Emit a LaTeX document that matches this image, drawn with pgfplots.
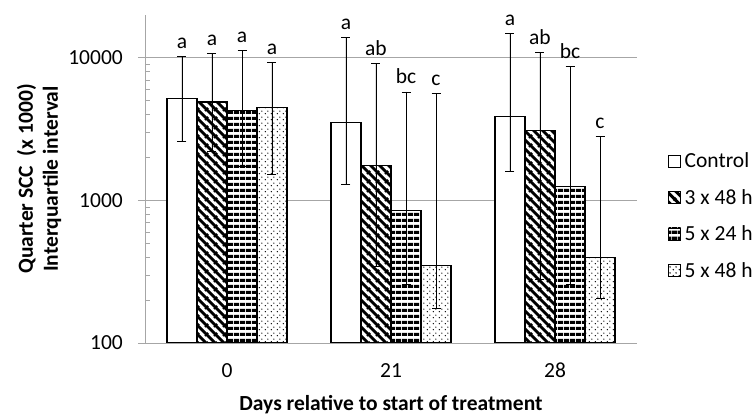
\documentclass[border=0pt]{standalone}
\usepackage{fontspec}
\setmainfont{Carlito}
\usepackage{pgfplots}
\pgfplotsset{compat=1.18}
\usepackage{pgfplotstable}
\usetikzlibrary{patterns}
\definecolor{gridgray}{gray}{0.65}
\newcommand{\myfont}{\fontsize{21.5}{25}\selectfont}

\pgfdeclarepatternformonly{mydiag}{\pgfqpoint{0pt}{0pt}}{\pgfqpoint{9pt}{9pt}}{\pgfqpoint{9pt}{9pt}}{
  \pgfsetlinewidth{3.2pt}
  \pgfpathmoveto{\pgfqpoint{-1pt}{10pt}}\pgfpathlineto{\pgfqpoint{10pt}{-1pt}}
  \pgfpathmoveto{\pgfqpoint{-1pt}{1pt}}\pgfpathlineto{\pgfqpoint{1pt}{-1pt}}
  \pgfpathmoveto{\pgfqpoint{8pt}{10pt}}\pgfpathlineto{\pgfqpoint{10pt}{8pt}}
  \pgfusepath{stroke}
}
\pgfdeclarepatternformonly{myhoriz}{\pgfqpoint{0pt}{0pt}}{\pgfqpoint{6pt}{6pt}}{\pgfqpoint{6pt}{6pt}}{
  \pgfpathrectangle{\pgfqpoint{0pt}{1.25pt}}{\pgfqpoint{6pt}{3.5pt}}
  \pgfusepath{fill}
}
\pgfdeclarepatternformonly{mydots}{\pgfqpoint{0pt}{0pt}}{\pgfqpoint{6pt}{6pt}}{\pgfqpoint{6pt}{6pt}}{
  \pgfpathcircle{\pgfqpoint{1.5pt}{1.5pt}}{0.85pt}
  \pgfpathcircle{\pgfqpoint{4.5pt}{4.5pt}}{0.85pt}
  \pgfusepath{fill}
}

\pgfplotstableread{
x y up lo letter
0 5200 10200 2600 a
1 3520 13900 1300 a
2 3900 14800 1600 a
}\ctrl
\pgfplotstableread{
x y up lo letter
0 4900 10700 2220 a
1 1770 9100 343 ab
2 3110 10950 278 ab
}\tA
\pgfplotstableread{
x y up lo letter
0 4270 11200 1740 a
1 855 5770 258 bc
2 1245 8750 258 bc
}\tB
\pgfplotstableread{
x y up lo letter
0 4500 9300 1530 a
1 350 5600 175 c
2 396 2810 207 c
}\tC

\pgfplotsset{
  mybar/.style={ybar, bar width=0.183, bar shift=0pt, draw=black, line width=1.2pt,
    error bars/y dir=both, error bars/y explicit,
    error bars/error bar style={black, line width=0.8pt},
    error bars/error mark=-, error bars/error mark options={rotate=90, black, mark size=4.5pt, line width=0.8pt}},
  letters/.style={only marks, mark=*, mark size=0pt, mark options={draw=none, fill=none}, forget plot,
    nodes near coords, point meta=explicit symbolic,
    nodes near coords style={anchor=base, yshift=8pt, inner sep=0pt, text=black, font=\myfont}},
}

\begin{document}
\begin{tikzpicture}
\useasboundingbox (-145pt,-72pt) rectangle (611pt,343pt);
\begin{axis}[
  at={(0pt,0pt)}, anchor=south west,
  scale only axis, width=492pt, height=328pt,
  ymode=log, ymin=100, ymax=20000, log origin y=infty,
  xmin=-0.5, xmax=2.5,
  xtick={0,1,2}, xticklabels={0,21,28},
  ytick={100,1000,10000}, yticklabels={100,1000,10000},
  ymajorgrids, grid style={gridgray, line width=0.9pt},
  axis x line*=bottom, axis y line*=left,
  axis line style={gridgray, line width=0.9pt},
  xtick style={draw=none},
  tick align=inside, major tick length=7pt, minor tick length=5pt,
  ytick style={gridgray, line width=0.9pt},
  every major y tick/.append style={xshift=-7pt},
  font=\myfont,
  xticklabel style={anchor=base, yshift=-35pt, font=\myfont},
  yticklabel style={anchor=east, inner sep=0pt, xshift=-22pt, font=\myfont},
  xlabel={Days relative to start of treatment},
  every axis x label/.style={at={(axis description cs:0.5,-0.2043)}, anchor=base, font=\myfont\bfseries},
  ylabel={Quarter SCC\ \ (x 1000)\\Interquartile interval},
  every axis y label/.style={at={(axis description cs:-0.2154,0.5)}, rotate=90, anchor=center, align=center, font=\myfont\bfseries},
  legend style={at={(axis description cs:1.063,0.388)}, anchor=west, draw=none, fill=none,
    row sep=16pt, font=\myfont, inner sep=0pt},
  legend cell align=left,
  legend image code/.code={\draw[#1, line width=0.8pt] (0pt,-6pt) rectangle (12pt,6pt); \path (13.5pt,0pt);},
]
\addplot[mybar, fill=white] table[x expr=\thisrow{x}-0.2744, y=y,
  y error plus expr=\thisrow{up}-\thisrow{y}, y error minus expr=\thisrow{y}-\thisrow{lo}] {\ctrl};
\addlegendentry{Control}
\addplot[mybar, fill=white, postaction={pattern=mydiag}] table[x expr=\thisrow{x}-0.0915, y=y,
  y error plus expr=\thisrow{up}-\thisrow{y}, y error minus expr=\thisrow{y}-\thisrow{lo}] {\tA};
\addlegendentry{3 x 48 h}
\addplot[mybar, fill=white, postaction={pattern=myhoriz}] table[x expr=\thisrow{x}+0.0915, y=y,
  y error plus expr=\thisrow{up}-\thisrow{y}, y error minus expr=\thisrow{y}-\thisrow{lo}] {\tB};
\addlegendentry{5 x 24 h}
\addplot[mybar, fill=white, postaction={pattern=mydots}] table[x expr=\thisrow{x}+0.2744, y=y,
  y error plus expr=\thisrow{up}-\thisrow{y}, y error minus expr=\thisrow{y}-\thisrow{lo}] {\tC};
\addlegendentry{5 x 48 h}

\addplot[letters] table[x expr=\thisrow{x}-0.2744, y=up, meta=letter] {\ctrl};
\addplot[letters] table[x expr=\thisrow{x}-0.0915, y=up, meta=letter] {\tA};
\addplot[letters] table[x expr=\thisrow{x}+0.0915, y=up, meta=letter] {\tB};
\addplot[letters] table[x expr=\thisrow{x}+0.2744, y=up, meta=letter] {\tC};
\end{axis}
\end{tikzpicture}
\end{document}
